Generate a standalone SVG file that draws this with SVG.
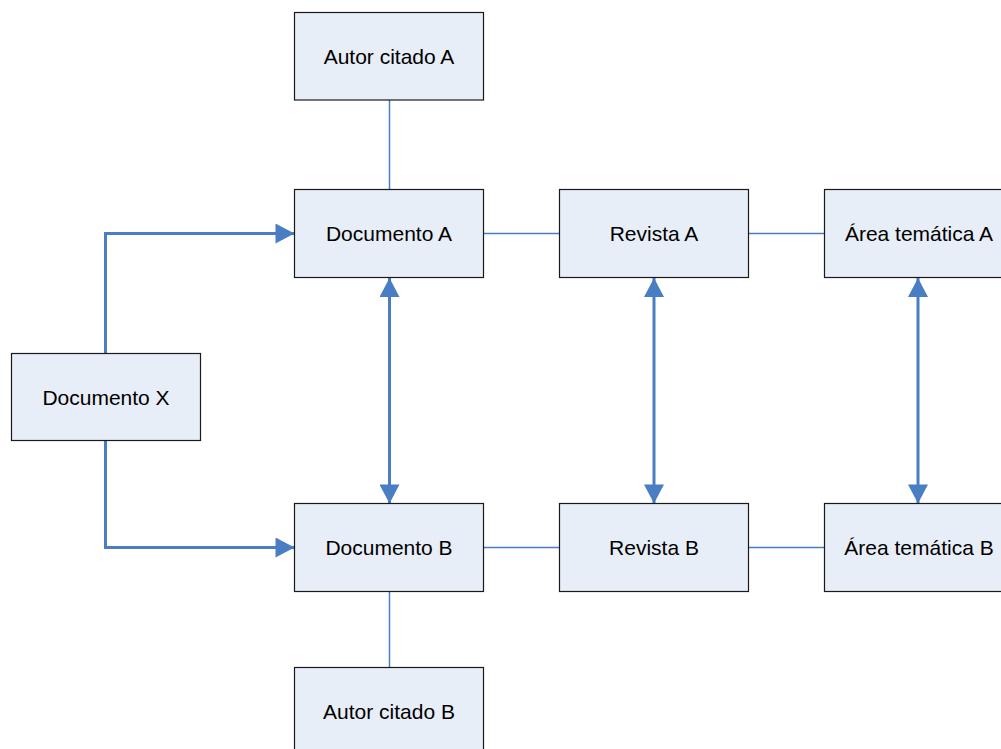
<svg xmlns="http://www.w3.org/2000/svg" width="1001" height="749" viewBox="0 0 1001 749">
<defs>
<style>
.box{fill:#E8EEF7;stroke:#1a1a1a;stroke-width:1.2}
.lbl{font-family:"Liberation Sans",Arial,sans-serif;font-size:21px;fill:#000;text-anchor:middle;dominant-baseline:central}
.thin{fill:none;stroke:#4A7EC4;stroke-width:1.5}
.thick{fill:none;stroke:#4A7EC4;stroke-width:3}
</style>
<marker id="ah" markerUnits="userSpaceOnUse" markerWidth="20" markerHeight="20" viewBox="0 0 19 20" refX="19" refY="10" orient="auto-start-reverse">
<path d="M0,0 L19,10 L0,20 Z" fill="#4A7EC4"/>
</marker>
</defs>
<rect width="1001" height="749" fill="#fff"/>
<g id="connectors">
<line class="thin" x1="389.5" y1="100" x2="389.5" y2="189.5"/>
<line class="thin" x1="389.5" y1="591.5" x2="389.5" y2="667.5"/>
<line class="thin" x1="484" y1="233.5" x2="559" y2="233.5"/>
<line class="thin" x1="748" y1="233.5" x2="824" y2="233.5"/>
<line class="thin" x1="484" y1="547.5" x2="559" y2="547.5"/>
<line class="thin" x1="748" y1="547.5" x2="824" y2="547.5"/>
<polyline class="thick" points="105.5,353 105.5,233.5 294.5,233.5" marker-end="url(#ah)"/>
<polyline class="thick" points="105.5,440 105.5,547.5 294.5,547.5" marker-end="url(#ah)"/>
<line class="thick" x1="389.5" y1="278" x2="389.5" y2="503.5" marker-start="url(#ah)" marker-end="url(#ah)"/>
<line class="thick" x1="654" y1="278" x2="654" y2="503.5" marker-start="url(#ah)" marker-end="url(#ah)"/>
<line class="thick" x1="918" y1="278" x2="918" y2="503.5" marker-start="url(#ah)" marker-end="url(#ah)"/>
</g>
<g id="autor-a"><rect class="box" x="294.5" y="12.5" width="189" height="87.5"/><text class="lbl" x="389" y="56.5">Autor citado A</text></g>
<g id="documento-a"><rect class="box" x="294.5" y="189.5" width="189" height="88"/><text class="lbl" x="389" y="233.5">Documento A</text></g>
<g id="revista-a"><rect class="box" x="559.5" y="189.5" width="189" height="88"/><text class="lbl" x="654" y="233.5">Revista A</text></g>
<g id="area-a"><rect class="box" x="824.5" y="189.5" width="189" height="88"/><text class="lbl" x="919" y="233.5">Área temática A</text></g>
<g id="documento-x"><rect class="box" x="11.5" y="353.5" width="189" height="87"/><text class="lbl" x="106" y="397">Documento X</text></g>
<g id="documento-b"><rect class="box" x="294.5" y="503.5" width="189" height="88"/><text class="lbl" x="389" y="547.5">Documento B</text></g>
<g id="revista-b"><rect class="box" x="559.5" y="503.5" width="189" height="88"/><text class="lbl" x="654" y="547.5">Revista B</text></g>
<g id="area-b"><rect class="box" x="824.5" y="503.5" width="189" height="88"/><text class="lbl" x="919" y="547.5">Área temática B</text></g>
<g id="autor-b"><rect class="box" x="294.5" y="667.5" width="189" height="88"/><text class="lbl" x="389" y="711.5">Autor citado B</text></g>
</svg>
